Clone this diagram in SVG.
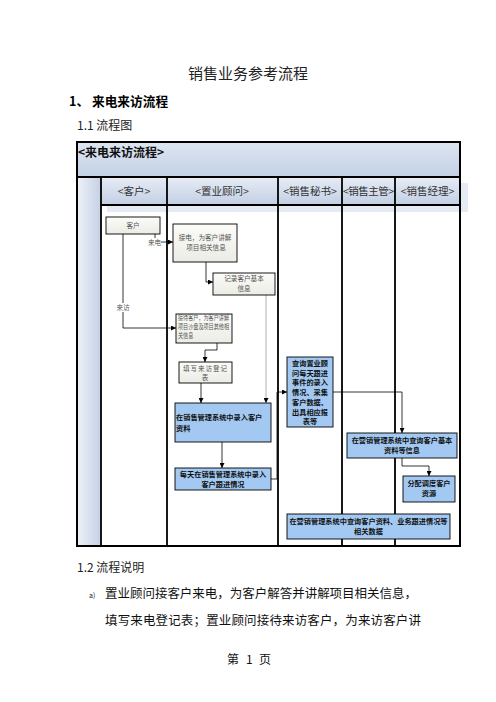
<svg xmlns="http://www.w3.org/2000/svg" width="496" height="702" viewBox="0 0 496 702">
<defs>
<linearGradient id="gTitle" x1="0" y1="0" x2="0" y2="1"><stop offset="0" stop-color="#dde5f1"/><stop offset="1" stop-color="#c3d1e6"/></linearGradient>
<linearGradient id="gHead" x1="0" y1="0" x2="0" y2="1"><stop offset="0" stop-color="#e6ecf5"/><stop offset="1" stop-color="#c2cfe3"/></linearGradient>
<linearGradient id="gLeft" x1="0" y1="0" x2="1" y2="0"><stop offset="0" stop-color="#eef2f8"/><stop offset="1" stop-color="#c4d0e4"/></linearGradient>
<linearGradient id="gGrey" x1="0" y1="0" x2="0" y2="1"><stop offset="0" stop-color="#fbfbf8"/><stop offset="1" stop-color="#ecece6"/></linearGradient>
<marker id="arr" viewBox="0 0 6 6" refX="6" refY="3" markerWidth="5" markerHeight="5" orient="auto" markerUnits="userSpaceOnUse"><path d="M0,0 L6,3 L0,6 z" fill="#000"/></marker>
</defs>
<style>
.cjk{font-family:"Noto Sans CJK SC","Liberation Sans",sans-serif}
.hd{font-size:10.5px;fill:#333;text-anchor:middle}
.lane{stroke:#000;stroke-width:1.8;fill:none}
.gbox{fill:url(#gGrey);stroke:#000;stroke-width:0.9}
.bbox{fill:#a3c9f2;stroke:#000;stroke-width:0.9}
.gt{font-size:6.6px;fill:#555}
.bt{font-size:7.2px;font-weight:bold;fill:#111}
.c{text-anchor:middle}
.con path{fill:none;stroke:#000;stroke-width:0.8}
</style>
<rect width="496" height="702" fill="#fff"/>
<g id="doc-text" class="cjk">
<text x="248" y="79" font-size="15" text-anchor="middle" fill="#222">销售业务参考流程</text>
<text x="69" y="106" font-size="12.5" font-weight="bold">1、</text>
<text x="92" y="106" font-size="12.7" font-weight="bold">来电来访流程</text>
<text x="77" y="130" font-size="12" fill="#222">1.1 流程图</text>
<text x="77" y="572" font-size="12" fill="#222">1.2 流程说明</text>
<text x="89" y="598" font-size="7" fill="#222">a)</text>
<text x="105" y="598" font-size="12.5" fill="#111" textLength="312">置业顾问接客户来电，为客户解答并讲解项目相关信息，</text>
<text x="105" y="625" font-size="12.5" fill="#111" textLength="316">填写来电登记表；置业顾问接待来访客户，为来访客户讲</text>
<text x="227" y="664" font-size="12" fill="#111">第</text>
<text x="246" y="664" font-size="12" fill="#111">1</text>
<text x="259" y="664" font-size="12" fill="#111">页</text>
</g>
<g id="frame">
<rect x="77" y="142" width="383" height="404" fill="#fff"/>
<rect x="107" y="183" width="361" height="29" fill="#e6ebf3"/>
<rect x="77" y="142" width="383" height="35" fill="url(#gTitle)"/>
<rect x="77" y="177" width="24" height="369" fill="url(#gLeft)"/>
<rect x="101" y="177" width="66" height="28" fill="url(#gHead)"/>
<rect x="167" y="177" width="111" height="28" fill="url(#gHead)"/>
<rect x="278" y="177" width="64" height="28" fill="url(#gHead)"/>
<rect x="342" y="177" width="53" height="28" fill="url(#gHead)"/>
<rect x="395" y="177" width="65" height="28" fill="url(#gHead)"/>
<path class="lane" d="M77,177 H460 M101,205 H460 M101,177 V546 M167,177 V546 M278,177 V546 M342,177 V546 M395,177 V546"/>
<rect x="77" y="142" width="383" height="404" fill="none" stroke="#000" stroke-width="2"/>
<text x="78" y="157" class="cjk" font-size="12" font-weight="bold" fill="#111">&lt;来电来访流程&gt;</text>
<text x="134" y="195" class="cjk hd">&lt;客户&gt;</text>
<text x="222" y="195" class="cjk hd">&lt;置业顾问&gt;</text>
<text x="310" y="195" class="cjk hd">&lt;销售秘书&gt;</text>
<text x="368.5" y="195" class="cjk hd" textLength="51">&lt;销售主管&gt;</text>
<text x="427.5" y="195" class="cjk hd">&lt;销售经理&gt;</text>
</g>
<g id="connectors" class="con">
<path d="M155,234 V238"/>
<path d="M161,242 H173" marker-end="url(#arr)"/>
<path d="M123,234 V303 M123,312 V328 H176" marker-end="url(#arr)"/>
<path d="M206,262 V282 H213" marker-end="url(#arr)"/>
<path d="M266,295 V403" style="stroke:#999" marker-end="url(#arr)"/>
<path d="M217,343 V350 H205 V362" marker-end="url(#arr)"/>
<path d="M201,383 V403" marker-end="url(#arr)"/>
<path d="M222,442 V468" marker-end="url(#arr)"/>
<path d="M271,479 H277 V392 H287" marker-end="url(#arr)"/>
<path d="M333,392 H402 V433" marker-end="url(#arr)"/>
<path d="M402,458 V466 H429 V476" marker-end="url(#arr)"/>
<text x="154.5" y="245" class="cjk gt c">来电</text>
<text x="123" y="310" class="cjk gt c">来访</text>
</g>
<g id="n-kehu"><rect class="gbox" x="106" y="217" width="54" height="17"/><text x="133" y="228" class="cjk gt c">客户</text></g>
<g id="n-jiedian"><rect class="gbox" x="173" y="224" width="64" height="38"/><text x="205" y="240" class="cjk gt c">接电，为客户讲解</text><text x="206" y="250" class="cjk gt c">项目相关信息</text></g>
<g id="n-jilu"><rect class="gbox" x="213" y="273" width="62" height="22"/><text x="244" y="281" class="cjk gt c">记录客户基本</text><text x="244" y="291" class="cjk gt c">信息</text></g>
<g id="n-jiedai"><rect class="gbox" x="176" y="314" width="56" height="29"/><text x="178" y="320" class="cjk gt" font-size="6" textLength="51" lengthAdjust="spacingAndGlyphs">接待客户，为客户讲解</text><text x="178" y="328.9" class="cjk gt" font-size="6" textLength="51" lengthAdjust="spacingAndGlyphs">项目沙盘及项目其他相</text><text x="178" y="337.8" class="cjk gt" font-size="6" textLength="15.3" lengthAdjust="spacingAndGlyphs">关信息</text></g>
<g id="n-tianxie"><rect class="gbox" x="179" y="362" width="53" height="21"/><text x="205" y="370.5" class="cjk gt c" textLength="44">填写来访登记</text><text x="205" y="379.5" class="cjk gt c">表</text></g>
<g id="n-luru"><rect class="bbox" x="175" y="403" width="96" height="39"/><text x="176" y="420" class="cjk bt">在销售管理系统中录入客户</text><text x="176" y="430.5" class="cjk bt">资料</text></g>
<g id="n-meitian"><rect class="bbox" x="175" y="468" width="96" height="22"/><text x="223" y="477" class="cjk bt c">每天在销售管理系统中录入</text><text x="223" y="487" class="cjk bt c">客户跟进情况</text></g>
<g id="n-chaxun"><rect class="bbox" x="287" y="357" width="46" height="70"/>
<text class="cjk bt c"><tspan x="310" y="366">查询置业顾</tspan><tspan x="310" y="375.7">问每天跟进</tspan><tspan x="310" y="385.4">事件的录入</tspan><tspan x="310" y="395.1">情况、采集</tspan><tspan x="310" y="404.8">客户数据、</tspan><tspan x="310" y="414.5">出具相应报</tspan><tspan x="310" y="424.2">表等</tspan></text></g>
<g id="n-jiben"><rect class="bbox" x="347" y="433" width="110" height="25"/><text x="402" y="443" class="cjk bt c">在营销管理系统中查询客户基本</text><text x="402" y="453" class="cjk bt c">资料等信息</text></g>
<g id="n-fenpei"><rect class="bbox" x="403" y="476" width="52" height="26"/><text x="429" y="485.5" class="cjk bt c">分配调度客户</text><text x="429" y="496" class="cjk bt c">资源</text></g>
<g id="n-ziliao"><rect class="bbox" x="287" y="514" width="163" height="25"/><text x="368.5" y="524" class="cjk bt c">在营销管理系统中查询客户资料、业务跟进情况等</text><text x="368.5" y="534" class="cjk bt c">相关数据</text></g>
</svg>
